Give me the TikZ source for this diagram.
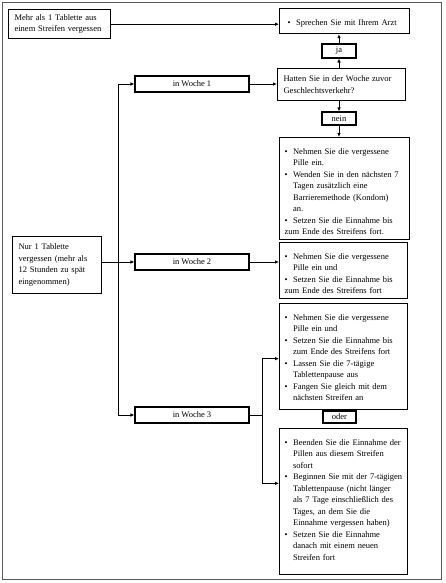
\documentclass[tikz,border=0pt]{standalone}
\usepackage{fontspec}
\setmainfont{Liberation Serif}
\usetikzlibrary{arrows.meta,calc}

\newcommand{\bitem}[1]{\par\hangindent=8.5pt\hangafter=1\noindent
  \hbox to 8.5pt{\textbullet\hss}{\let\\\newline #1}}

\begin{document}
\begin{tikzpicture}[x=1pt, y=-1pt, >={Latex[length=4pt,width=3.6pt]},
  txt/.style={draw, line width=1.2pt, anchor=north west, align=left,
    inner xsep=5pt, inner ysep=5pt, font=\fontsize{8.5}{11.5}\selectfont},
  tag/.style={draw, line width=1.2pt, align=center, inner sep=0pt,
    font=\fontsize{8.5}{11.5}\selectfont},
  link/.style={->, line width=0.9pt}]

\useasboundingbox (0,0) rectangle (445,583);
\draw[black!65, line width=1.2pt] (2.5,2.5) rectangle (441.5,579.5);

% left column
\node[txt, inner xsep=6pt, text width=90pt, minimum height=28pt] (mehr) at (8,9)
  {Mehr als 1 Tablette aus\\einem Streifen vergessen};
\node[txt, inner xsep=6pt, text width=77pt, minimum height=57pt] (nur) at (12,236)
  {Nur 1 Tablette\\vergessen (mehr als\\12 Stunden zu spät\\eingenommen)};

% weeks
\node[tag, minimum width=114pt, minimum height=16pt] (woche1) at (192,84) {in Woche 1};
\node[tag, minimum width=114pt, minimum height=16pt] (woche2) at (192,262) {in Woche 2};
\node[tag, minimum width=114pt, minimum height=16pt] (woche3) at (192,415) {in Woche 3};

% right column
\node[txt, inner xsep=8pt, text width=114pt, minimum height=25pt] (arzt) at (279,8)
  {\bitem{Sprechen Sie mit Ihrem Arzt}};
\node[tag, minimum width=34pt, minimum height=14pt] (ja) at (339,51) {ja};
\node[txt, inner xsep=6pt, text width=116pt, minimum height=32pt] (hatten) at (277,68)
  {Hatten Sie in der Woche zuvor\\Geschlechtsverkehr?};
\node[tag, minimum width=34pt, minimum height=13pt] (nein) at (339,118.5) {nein};

\node[txt, text width=120pt, minimum height=100pt] (akt1) at (279,137)
  {\bitem{Nehmen Sie die vergessene\\Pille ein.}
   \bitem{Wenden Sie in den nächsten 7\\Tagen zusätzlich eine\\Barrieremethode (Kondom)\\an.}
   \bitem{Setzen Sie die Einnahme bis\\zum Ende des Streifens fort.}};

\node[txt, text width=118pt, minimum height=54pt] (akt2) at (279,242)
  {\bitem{Nehmen Sie die vergessene\\Pille ein und}
   \bitem{Setzen Sie die Einnahme bis\\zum Ende des Streifens fort}};

\node[txt, text width=118pt] (akt3) at (279,303)
  {\bitem{Nehmen Sie die vergessene\\Pille ein und}
   \bitem{Setzen Sie die Einnahme bis\\zum Ende des Streifens fort}
   \bitem{Lassen Sie die 7-tägige\\Tablettenpause aus}
   \bitem{Fangen Sie gleich mit dem\\nächsten Streifen an}\par\kern 4pt};

\node[tag, minimum width=33pt, minimum height=12pt] (oder) at (339.5,417) {oder};

\node[txt, text width=118pt] (akt4) at (279,428)
  {\bitem{Beenden Sie die Einnahme der\\Pillen aus diesem Streifen\\sofort}
   \bitem{Beginnen Sie mit der 7-tägigen\\Tablettenpause (nicht länger\\als 7 Tage einschließlich des\\Tages, an dem Sie die\\Einnahme vergessen haben)}
   \bitem{Setzen Sie die Einnahme\\danach mit einem neuen\\Streifen fort}\par\kern 9pt};

% connectors
\draw[link] (mehr.east) -- (mehr.east -| arzt.west);
\draw[link] (ja.south |- hatten.north) -- (ja.south);
\draw[link] (ja.north) -- (ja.north |- arzt.south);
\draw[link] (woche1.east) -- (woche1.east -| hatten.west);
\draw[link] (nein.north |- hatten.south) -- (nein.north);
\draw[link] (nein.south) -- (nein.south |- akt1.north);

\coordinate (stamm) at (118,415);
\draw[link] (stamm) |- (woche1.west);
\draw[link] (stamm) -- (woche3.west);
\draw[link] (nur.east |- woche2.west) -- (woche2.west);
\draw[link] (woche2.east) -- (woche2.east -| akt2.west);

\coordinate (gabel) at (262,415);
\draw[line width=0.9pt] (woche3.east) -- (gabel);
\draw[link] (gabel) |- ([yshift=-2pt]akt3.west);
\draw[link] (gabel) |- ([yshift=18pt]akt4.west);

\end{tikzpicture}
\end{document}
